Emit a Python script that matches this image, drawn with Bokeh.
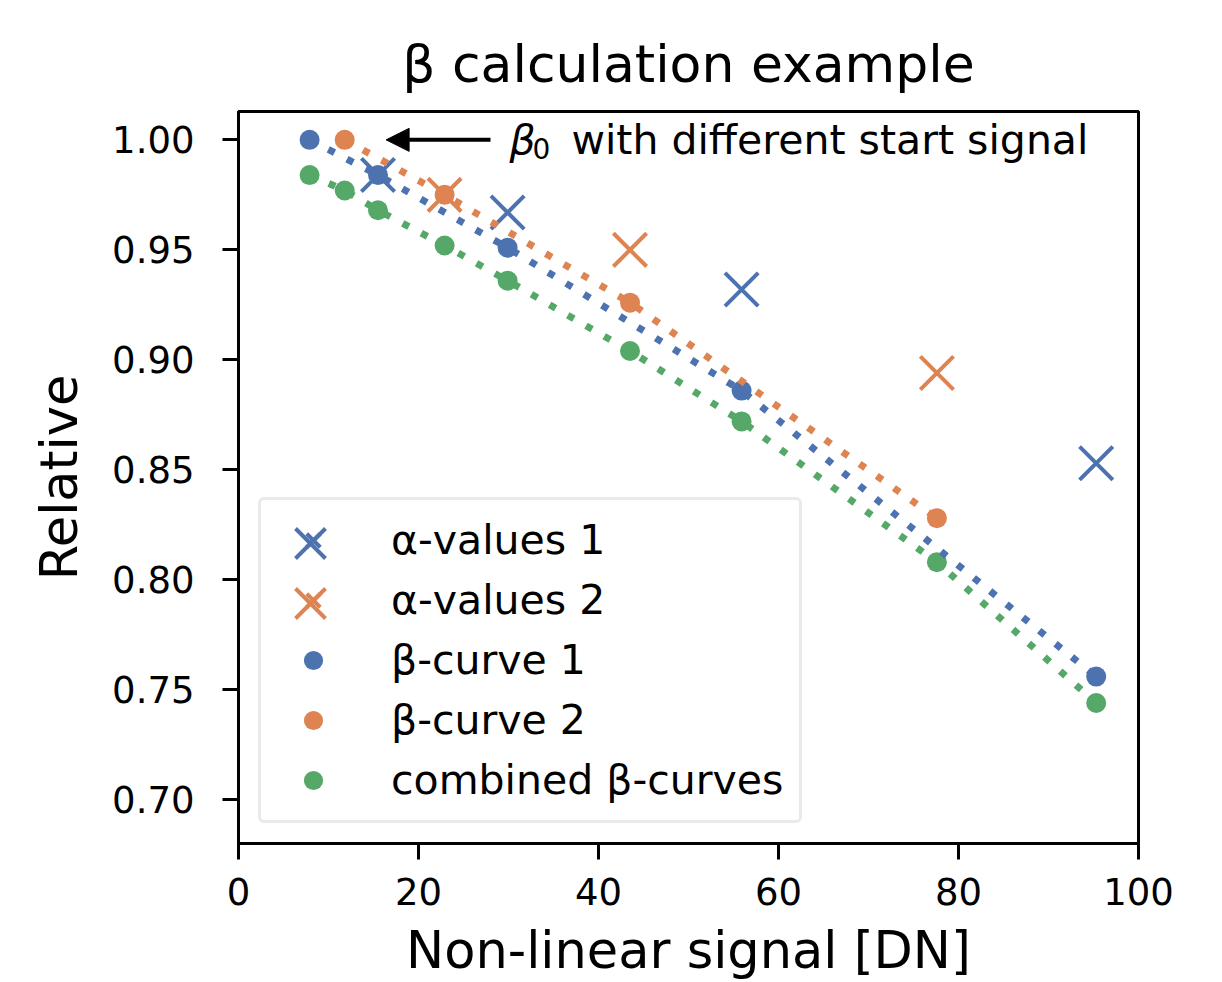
from bokeh.plotting import figure
from bokeh.models import (Range1d, FixedTicker, PrintfTickFormatter, Legend, LegendItem,
                          Arrow, NormalHead, Label)
from bokeh.embed import file_html
from bokeh.resources import INLINE

# ---------------- data ----------------
beta1_x = [7.9, 15.5, 29.9, 55.9, 95.3]
beta1_y = [1.000, 0.984, 0.951, 0.886, 0.756]

beta2_x = [11.8, 22.9, 43.5, 77.6]
beta2_y = [1.000, 0.975, 0.926, 0.828]

comb_x = [7.9, 11.8, 15.5, 22.9, 29.9, 43.5, 55.9, 77.6, 95.3]
comb_y = [0.984, 0.977, 0.968, 0.952, 0.936, 0.904, 0.872, 0.808, 0.744]

alpha1_x = [15.5, 29.9, 55.9, 95.3]
alpha1_y = [0.984, 0.967, 0.932, 0.853]

alpha2_x = [22.9, 43.5, 77.6]
alpha2_y = [0.975, 0.950, 0.894]

legend_labels = ["α-values 1", "α-values 2", "β-curve 1", "β-curve 2", "combined β-curves"]
x_ticks = [0, 20, 40, 60, 80, 100]
y_ticks = [0.70, 0.75, 0.80, 0.85, 0.90, 0.95, 1.00]

annot_y = 1.0
annot_tail_x = 28.0
annot_head_x = 16.4
annot_text_x = 30.1
annot_text = "with different start signal"

# ---------------- style ----------------
FONT = "DejaVu Sans"
BLUE, ORANGE, GREEN = "#4C72B0", "#DD8452", "#55A868"

p = figure(width=1222, height=982, output_backend="svg", toolbar_location=None,
           x_range=Range1d(0, 100), y_range=Range1d(0.6801, 1.0129),
           min_border_left=238, min_border_right=84, min_border_top=111,
           min_border_bottom=139, title="β calculation example")
p.background_fill_color = "white"
p.border_fill_color = "white"
p.grid.visible = False
p.outline_line_color = "black"
p.outline_line_width = 3
p.outline_line_alpha = 1.0

p.title.text_font = FONT
p.title.text_font_size = "52px"
p.title.text_font_style = "normal"
p.title.text_color = "black"
p.title.align = "center"
p.title.standoff = 36

p.xaxis.ticker = FixedTicker(ticks=x_ticks)
p.yaxis.ticker = FixedTicker(ticks=y_ticks)
p.yaxis.formatter = PrintfTickFormatter(format="%.2f")
p.xaxis.axis_label = "Non-linear signal [DN]"
p.yaxis.axis_label = "Relative"
for ax in (p.xaxis, p.yaxis):
    ax.axis_line_width = 3
    ax.axis_line_color = "black"
    ax.major_tick_line_width = 3
    ax.major_tick_line_color = "black"
    ax.major_tick_out = 16
    ax.major_tick_in = 0
    ax.minor_tick_out = 0
    ax.minor_tick_in = 0
    ax.major_label_text_font = FONT
    ax.major_label_text_font_size = "37px"
    ax.major_label_text_color = "black"
    ax.axis_label_text_font = FONT
    ax.axis_label_text_font_size = "51px"
    ax.axis_label_text_font_style = "normal"
    ax.axis_label_text_color = "black"
p.xaxis.major_label_standoff = 18
p.xaxis.axis_label_standoff = 13
p.yaxis.major_label_standoff = 28
p.yaxis.axis_label_standoff = 20

# ---------------- glyphs ----------------
r_a1 = p.scatter(alpha1_x, alpha1_y, marker="x", size=47, line_color=BLUE, line_width=4)
r_a2 = p.scatter(alpha2_x, alpha2_y, marker="x", size=47, line_color=ORANGE, line_width=4)
r_b1 = p.scatter(beta1_x, beta1_y, marker="circle", size=20, fill_color=BLUE, line_color=None)
r_b2 = p.scatter(beta2_x, beta2_y, marker="circle", size=20, fill_color=ORANGE, line_color=None)
r_c = p.scatter(comb_x, comb_y, marker="circle", size=20, fill_color=GREEN, line_color=None)

DASH = "7 14"
p.line(beta1_x, beta1_y, line_color=BLUE, line_width=7, line_dash=DASH)
p.line(beta2_x, beta2_y, line_color=ORANGE, line_width=7, line_dash=DASH)
p.line(comb_x, comb_y, line_color=GREEN, line_width=7, line_dash=DASH)

# ---------------- legend ----------------
LEG_X, LEG_Y = 20, 20
PAD, GW, GH, SP = 16, 72, 48, 12
renderers = [r_a1, r_a2, r_b1, r_b2, r_c]
legend = Legend(items=[LegendItem(label=lab, renderers=[r]) for lab, r in zip(legend_labels, renderers)],
                location=(LEG_X, LEG_Y), padding=PAD, spacing=SP, margin=0,
                glyph_width=GW, glyph_height=GH, label_height=GH, label_standoff=42,
                label_text_font=FONT, label_text_font_size="41px", label_text_color="black",
                border_line_color="#d6d6d6", border_line_width=3,
                background_fill_color="white", background_fill_alpha=0.8)
try:
    legend.border_radius = 6
except Exception:
    pass
p.add_layout(legend)

# bigger cross markers for the two alpha entries (overlaid on the legend rows)
BIG = 106
LEG_H = 2 * PAD + 5 * GH + 4 * SP
for row, r in enumerate([r_a1, r_a2]):
    cx = LEG_X + PAD + GW / 2
    cy = LEG_Y + LEG_H - PAD - GH / 2 - row * (GH + SP)
    p.add_layout(Legend(items=[LegendItem(label=" ", renderers=[r])],
                        location=(cx - BIG / 2, cy - BIG / 2), padding=0, margin=0,
                        glyph_width=BIG, glyph_height=BIG, label_standoff=0,
                        label_text_font_size="2px", border_line_alpha=0,
                        background_fill_alpha=0))

# ---------------- annotation ----------------
p.add_layout(Arrow(end=NormalHead(size=23, fill_color="black", line_color="black", line_width=1),
                   x_start=annot_tail_x, y_start=annot_y, x_end=annot_head_x, y_end=annot_y,
                   line_width=4, line_color="black"))
p.add_layout(Label(x=annot_text_x, y=annot_y, text="β", text_font=FONT, text_font_size="41px",
                   text_font_style="italic", text_baseline="middle", text_align="left",
                   text_color="black"))
p.add_layout(Label(x=annot_text_x, y=annot_y, x_offset=23, y_offset=-9, text="0", text_font=FONT,
                   text_font_size="28px", text_baseline="middle", text_align="left",
                   text_color="black"))
p.add_layout(Label(x=annot_text_x, y=annot_y, x_offset=62, text=annot_text, text_font=FONT,
                   text_font_size="41px", text_baseline="middle", text_align="left",
                   text_color="black"))

open("out.html", "w").write(file_html(p, INLINE))
